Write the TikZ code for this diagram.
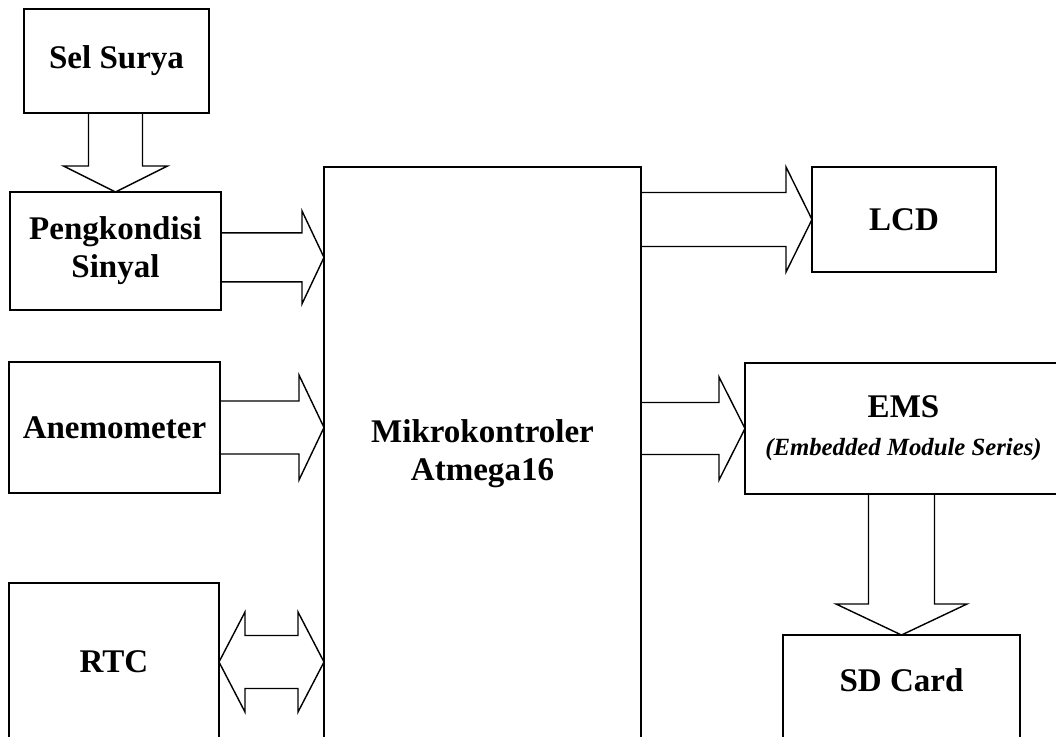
\documentclass[tikz,border=0pt]{standalone}
\usepackage{fontspec}
\setmainfont{Liberation Serif}
\usetikzlibrary{calc}
\newcommand{\px}{0.025cm}
\tikzset{
    block/.style = {
        draw,
        outer sep=0pt,
        inner sep=0pt,
        align=center,
        font=\fontsize{23.5}{27}\selectfont\bfseries,
        },
    fat right/.style n args = {3}{
        to path={let \p1=(\tikztostart), \p2=(\tikztotarget) in
            (\x1,\y1+#1*\px) -- (\x2-#3*\px,\y1+#1*\px) -- (\x2-#3*\px,\y1+#2*\px) -- (\x2,\y1)
            -- (\x2-#3*\px,\y1-#2*\px) -- (\x2-#3*\px,\y1-#1*\px) -- (\x1,\y1-#1*\px)},
        },
    fat both/.style n args = {3}{
        to path={let \p1=(\tikztostart), \p2=(\tikztotarget) in
            (\x1,\y1) -- (\x1+#3*\px,\y1+#2*\px) -- (\x1+#3*\px,\y1+#1*\px) -- (\x2-#3*\px,\y1+#1*\px)
            -- (\x2-#3*\px,\y1+#2*\px) -- (\x2,\y1) -- (\x2-#3*\px,\y1-#2*\px) -- (\x2-#3*\px,\y1-#1*\px)
            -- (\x1+#3*\px,\y1-#1*\px) -- (\x1+#3*\px,\y1-#2*\px) -- cycle},
        },
    fat down/.style n args = {3}{
        to path={let \p1=(\tikztostart), \p2=(\tikztotarget) in
            (\x2-#1*\px,\y1) -- (\x2-#1*\px,\y2+#3*\px) -- (\x2-#2*\px,\y2+#3*\px) -- (\x2,\y2)
            -- (\x2+#2*\px,\y2+#3*\px) -- (\x2+#1*\px,\y2+#3*\px) -- (\x2+#1*\px,\y1)},
        },
}

\begin{document}
\begin{tikzpicture}
            [
                x=\px, y=-\px,
                line width=1pt,
            ]

            \useasboundingbox (0,0) rectangle (1056,736);
            \clip (0,0) rectangle (1056,736);

            % left column
            \node [block, minimum width=185*\px, minimum height=104*\px] (surya) at (116.5,61) {Sel Surya};
            \node [block, minimum width=211*\px, minimum height=118*\px] (peng) at (115.5,251) {Pengkondisi\\Sinyal};
            \node [block, minimum width=211*\px, minimum height=131*\px] (anemo) at (114.5,427.5) {Anemometer};
            \node [block, minimum width=210*\px, minimum height=158*\px] (rtc) at (114,662) {RTC};

            % controller
            \node [block, minimum width=317*\px, minimum height=574*\px] (micro) at (482.5,454) {Mikrokontroler\\Atmega16};

            % right column, ems runs past the right border
            \node [block, minimum width=317*\px, minimum height=131*\px] (ems) at (903.5,428.5)
                {EMS\\{\fontsize{17.6}{25}\selectfont\itshape (Embedded Module Series)}};
            \node [block, minimum width=184*\px, minimum height=105*\px] (lcd) at (904,219.5) {LCD};
            \node [block, minimum width=237*\px, minimum height=105*\px, text depth=10.5pt] (sd) at (901.5,687.5) {SD Card};

            \draw [fat down={27}{52}{26}] (surya.south) to (peng.north);
            \draw [fat right={24.5}{46.5}{22}] ([yshift=-0.16cm]peng.east) to (micro.west);
            \draw [fat right={26.5}{52.5}{25}] (anemo.east) to (micro.west);
            \draw [fat both={26.5}{50}{26}] (rtc.east) to (micro.west);
            \draw [fat right={27}{52.5}{26}] (micro.east |- lcd.west) to (lcd.west);
            \draw [fat right={26}{51.5}{26}] (micro.east |- ems.west) to (ems.west);
            \draw [fat down={33}{65.5}{31}] (ems.south -| sd.north) to (sd.north);
        \end{tikzpicture}
\end{document}
